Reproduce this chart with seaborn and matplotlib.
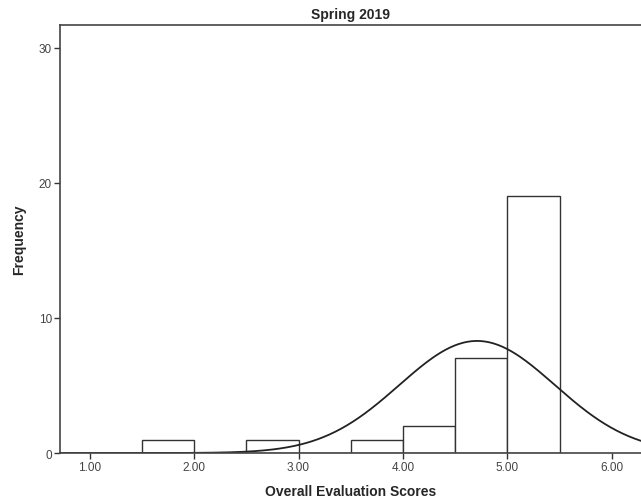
import numpy as np
import pandas as pd
import matplotlib
matplotlib.use("Agg")
import matplotlib.pyplot as plt
import seaborn as sns

# --- data ---
bin_left = [1.5, 2.5, 3.5, 4.0, 4.5, 5.0]
counts = [1, 1, 1, 2, 7, 19]
bin_edges = [1.5, 2.0, 2.5, 3.0, 3.5, 4.0, 4.5, 5.0, 5.5]
x_ticks = [1.0, 2.0, 3.0, 4.0, 5.0, 6.0]
y_ticks = [0, 10, 20, 30]
curve_mean = 4.71
curve_sd = 0.745
n_total = sum(counts)
bin_width = 0.5

sns.set_theme(style="white")
plt.rcParams['font.family'] = ['Liberation Sans Narrow', 'Liberation Sans', 'DejaVu Sans']

fig = plt.figure(figsize=(6.41, 5.02), dpi=100)
ax = fig.add_axes([0.094, 0.0956, 0.906, 0.8526])

df = pd.DataFrame({'score': [b + 0.25 for b in bin_left], 'n': counts})
sns.histplot(data=df, x='score', weights='n', bins=bin_edges, ax=ax,
             color='white', edgecolor='#333333', linewidth=1.0, alpha=1)

# normal curve overlay (SPSS style)
xs = np.linspace(0.7, 6.3, 400)
ys = n_total * bin_width * np.exp(-0.5 * ((xs - curve_mean) / curve_sd) ** 2) / (curve_sd * np.sqrt(2 * np.pi))
sns.lineplot(x=xs, y=ys, ax=ax, color='#222222', linewidth=1.3)

ax.set_xlim(0.718, 6.28)
ax.set_ylim(0, 31.7)
ax.set_xticks(x_ticks)
ax.set_xticklabels([f"{t:.2f}" for t in x_ticks])
ax.set_yticks(y_ticks)
ax.tick_params(axis='both', direction='out', length=4, width=1, color='#333333',
               labelsize=8.5, labelcolor='#444444', pad=2, bottom=True, left=True)

for side in ['left', 'bottom', 'top']:
    ax.spines[side].set_color('#444444')
    ax.spines[side].set_linewidth(1.2)
ax.spines['right'].set_visible(False)

ax.set_title('Spring 2019', fontsize=10, fontweight='bold', pad=5)
ax.set_xlabel('Overall Evaluation Scores', fontsize=10, fontweight='bold', labelpad=8)
ax.set_ylabel('Frequency', fontsize=10, fontweight='bold', labelpad=9)

fig.savefig('out.png', dpi=100)
